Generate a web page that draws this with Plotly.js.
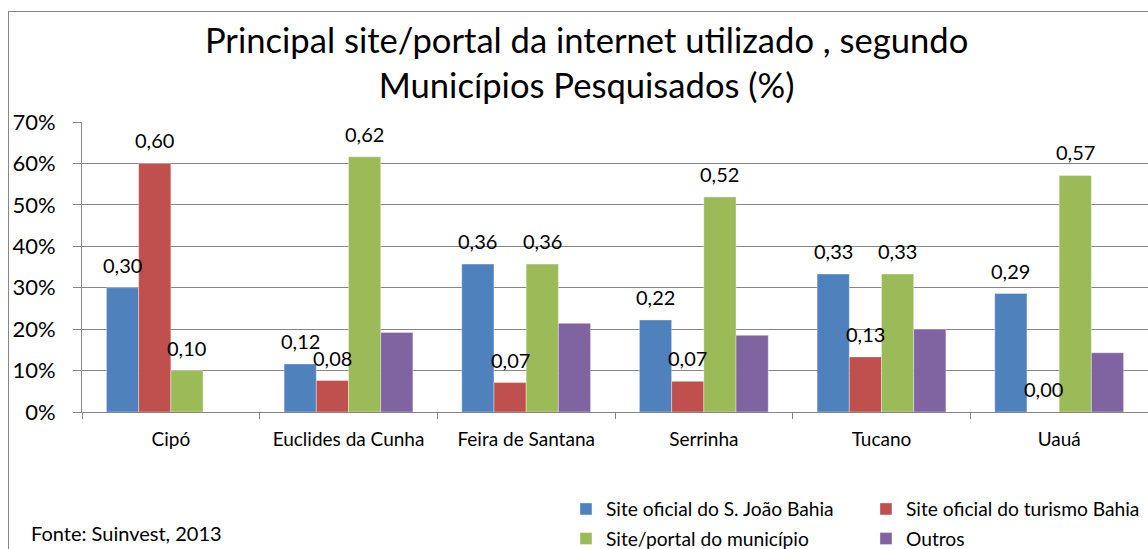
<!DOCTYPE html>
<html>
<head>
<meta charset="utf-8">
<script src="https://cdn.plot.ly/plotly-3.0.1.min.js"></script>
<style>
  html, body { margin: 0; padding: 0; background: #fff; overflow: hidden; }
  #wrap { position: relative; width: 1148px; height: 549px; }
  #chart { width: 1148px; height: 549px; }
  #frame { position: absolute; left: 8px; top: 11px; width: 1300px; height: 700px;
           border: 1.5px solid #878787; pointer-events: none; box-sizing: border-box; }
</style>
</head>
<body>
<div id="wrap">
  <div id="chart"></div>
  <div id="frame"></div>
</div>
<script>
// ---- data ----
const categories = ["Cipó", "Euclides da Cunha", "Feira de Santana", "Serrinha", "Tucano", "Uauá"];
const seriesNames = ["Site oficial do S. João Bahia", "Site oficial do turismo Bahia", "Site/portal do município", "Outros"];
const siteSaoJoao   = [0.30, 0.116, 0.357, 0.222, 0.333, 0.286];
const siteTurismo   = [0.60, 0.076, 0.071, 0.074, 0.133, 0.00];
const siteMunicipio = [0.10, 0.616, 0.357, 0.519, 0.333, 0.571];
const outros        = [null, 0.192, 0.214, 0.185, 0.200, 0.143];
const seriesValues = [siteSaoJoao, siteTurismo, siteMunicipio, outros];
const seriesColors = ["#4F81BD", "#C0504D", "#9BBB59", "#8064A2"];
const seriesLabeled = [true, true, true, false];
const legendRow = ["legend", "legend", "legend2", "legend2"];
const yTickVals = [0, 0.1, 0.2, 0.3, 0.4, 0.5, 0.6, 0.7];

const FONT = "Lato, 'Noto Sans', sans-serif";
const bargap = 0.275;
const nSeries = seriesValues.length;
const barW = (1 - bargap) / nSeries;

const traces = seriesValues.map((vals, j) => ({
  type: "bar",
  name: seriesNames[j],
  legend: legendRow[j],
  x: categories,
  y: vals,
  marker: { color: seriesColors[j], line: { color: "rgba(255,255,255,0.6)", width: 0.6 } },
  hoverinfo: "skip"
}));

const annotations = [];
seriesValues.forEach((vals, j) => {
  if (!seriesLabeled[j]) return;
  vals.forEach((v, i) => {
    if (v === null) return;
    annotations.push({
      x: i + (j - (nSeries - 1) / 2) * barW,
      y: v, xref: "x", yref: "y",
      text: v.toFixed(2).replace(".", ","),
      showarrow: false, yanchor: "middle", yshift: 23,
      font: { family: FONT, size: 20, color: "#000" }
    });
  });
});
annotations.push({
  xref: "paper", yref: "paper", x: -0.0497, y: -0.417,
  xanchor: "left", yanchor: "middle",
  text: "Fonte: Suinvest, 2013", showarrow: false,
  font: { family: FONT, size: 20, color: "#000" }
});

const legendBase = {
  orientation: "h", xref: "container", yref: "container",
  x: 0.493, xanchor: "left", yanchor: "top",
  entrywidth: 255, entrywidthmode: "pixels",
  font: { family: FONT, size: 19.2, color: "#000" },
  bgcolor: "rgba(0,0,0,0)", traceorder: "normal"
};

const layout = {
  width: 1148, height: 549,
  margin: { l: 82, r: 0, t: 122, b: 137, autoexpand: false },
  paper_bgcolor: "#fff", plot_bgcolor: "#fff",
  barmode: "group", bargap: bargap, bargroupgap: 0,
  showlegend: true,
  title: {
    text: "Principal site/portal da internet utilizado , segundo<br>Municípios Pesquisados (%)",
    x: 0.511, xanchor: "center", xref: "container",
    y: 0.9035, yanchor: "top", yref: "container",
    font: { family: FONT, size: 34.6, color: "#000" }
  },
  xaxis: {
    type: "category",
    showgrid: false, showline: true, linecolor: "#868686", linewidth: 1,
    ticks: "outside", tickson: "boundaries", ticklen: 6, tickcolor: "#868686",
    tickfont: { family: FONT, size: 19, color: "#000" },
    ticklabelstandoff: 10,
    fixedrange: true
  },
  yaxis: {
    range: [0, 0.7], tickvals: yTickVals, tickformat: ".0%",
    showgrid: true, gridcolor: "#868686", gridwidth: 1,
    showline: true, linecolor: "#868686", linewidth: 1,
    ticks: "outside", ticklen: 8, tickcolor: "#868686",
    tickfont: { family: FONT, size: 22, color: "#000" },
    ticklabelstandoff: 13,
    zeroline: false, fixedrange: true
  },
  legend: Object.assign({}, legendBase, { y: 0.1075 }),
  legend2: Object.assign({}, legendBase, { y: 0.0535 }),
  annotations: annotations
};

Plotly.newPlot("chart", traces, layout, { displayModeBar: false, staticPlot: true });
</script>
</body>
</html>
